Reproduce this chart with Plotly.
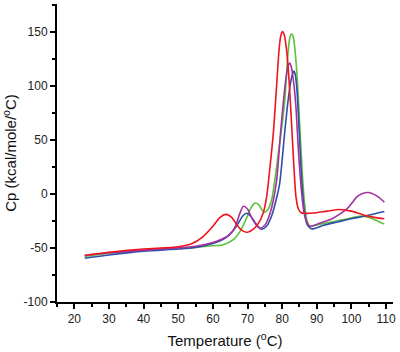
import plotly.graph_objects as go

# Temperature (°C) and Cp (kcal/mole/°C)
red_x = [23, 30, 40, 50, 54, 57, 60, 62, 63.8, 65.5, 67, 68.5, 70, 71.5, 73, 74.5, 75.5, 76.5, 77.5, 78.4, 79.1, 79.6, 80.1, 80.6, 81.2, 81.8, 82.5, 83.3, 84.0, 84.7, 85.5, 86.6, 88, 90, 93, 96.5, 100, 104, 107, 109.5]
red_y = [-57, -54, -51, -49, -46, -40, -30, -22, -19, -22, -29, -34, -35.5, -33, -28, -18, -3, 25, 58, 100, 133, 146, 150, 147, 135, 114, 78, 30, -3, -14, -17.5, -18, -18, -17.5, -16, -14.5, -16, -20, -22, -23]

green_x = [23, 30, 40, 50, 55, 60, 63, 66, 68, 69.5, 71, 72.1, 73.2, 74.2, 75, 76, 77, 78, 79, 79.8, 80.8, 81.6, 82.2, 82.7, 83.2, 83.8, 84.4, 85, 85.8, 86.5, 87.2, 88, 91, 95, 99, 103, 106, 109.5]
green_y = [-58, -55, -52, -50.5, -49.5, -48, -47, -42, -34, -24, -13, -8.6, -10, -15, -17, -14, -5, 15, 40, 59, 88, 127, 144, 148, 145, 130, 104, 68, 20, -10, -25, -30, -28, -25.5, -23, -20.5, -23, -28]

blue_x = [23, 30, 40, 50, 55, 60, 63, 65, 67, 68.5, 69.7, 71, 72.5, 74, 75.5, 77, 78.3, 79.3, 80.8, 81.7, 82.5, 83.0, 83.4, 83.8, 84.3, 84.9, 85.7, 86.5, 87.3, 88.5, 92, 96, 100, 104, 109.5]
blue_y = [-59.5, -56.5, -53, -51, -49.5, -46, -42, -37, -29, -21, -18, -21, -28, -32.7, -30, -20, -5, 10, 59, 86, 104, 111, 113.5, 110, 95, 59, 10, -18, -29, -32.4, -29, -26, -23, -20.5, -16.4]

purple_x = [23, 30, 40, 50, 55, 60, 62.5, 64.8, 66.5, 67.8, 68.8, 70, 71.5, 73.5, 75, 76.5, 78.3, 79.6, 80.8, 81.4, 81.8, 82.2, 82.6, 83.2, 83.9, 84.7, 85.5, 86.3, 87.2, 88, 91, 94.7, 96.5, 98.6, 100, 101.5, 103, 104.9, 106.5, 108, 109.5]
purple_y = [-57, -54.5, -52, -50, -48.5, -45, -42, -38, -30, -18, -11.5, -14, -24, -31.8, -29, -18, 10, 59, 99, 113, 119, 121, 118, 106, 84, 40, 5, -17, -27, -30, -27, -22.5, -19, -14.2, -9, -3, 0, 1.2, -0.5, -3.5, -7.7]

x_ticks = [20, 30, 40, 50, 60, 70, 80, 90, 100, 110]
y_ticks = [-100, -50, 0, 50, 100, 150]

series = [
    (green_x, green_y, "#5cc13a"),
    (blue_x, blue_y, "#2f50a8"),
    (purple_x, purple_y, "#a3329e"),
    (red_x, red_y, "#f0141e"),
]

fig = go.Figure()
for xs, ys, col in series:
    fig.add_trace(go.Scatter(x=xs, y=ys, mode="lines",
                             line=dict(color=col, width=1.6, shape="spline", smoothing=0.7),
                             hoverinfo="skip", showlegend=False))

font_family = "Liberation Sans, Arial, sans-serif"
fig.update_layout(
    width=400, height=352,
    margin=dict(l=57, r=7, t=4, b=50),
    plot_bgcolor="white", paper_bgcolor="white",
    font=dict(family=font_family, color="#222222", size=12),
    xaxis=dict(range=[15, 112], tickvals=x_ticks, ticktext=[str(v) for v in x_ticks],
               showgrid=False, zeroline=False, showline=True, linecolor="black", linewidth=2,
               ticks="outside", ticklen=5, tickwidth=2, tickcolor="black",
               minor=dict(dtick=5, tick0=15, ticks="outside", ticklen=3, tickwidth=1.5, tickcolor="black", showgrid=False),
               title=dict(text="Temperature (<sup>o</sup>C)", font=dict(size=15, color="#111111"), standoff=10),
               tickfont=dict(size=12), automargin=False),
    yaxis=dict(range=[-100, 175.5], tickvals=y_ticks, ticktext=[str(v) for v in y_ticks],
               showgrid=False, zeroline=False, showline=True, linecolor="black", linewidth=2,
               ticks="outside", ticklen=5, tickwidth=2, tickcolor="black",
               minor=dict(dtick=25, tick0=-100, ticks="outside", ticklen=3, tickwidth=1.5, tickcolor="black", showgrid=False),
               title=dict(text="Cp (kcal/mole/<sup>o</sup>C)", font=dict(size=15, color="#111111"), standoff=8),
               tickfont=dict(size=12), automargin=False),
)

fig.write_html("out.html")
